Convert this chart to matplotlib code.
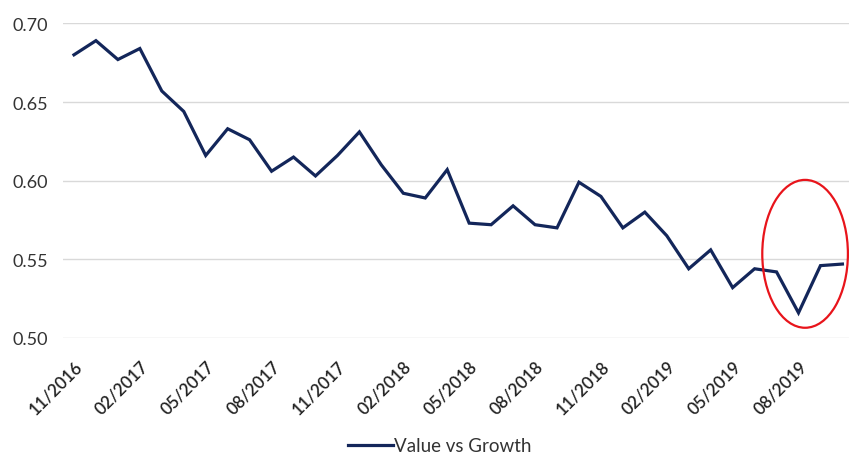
import matplotlib
matplotlib.use("Agg")
import matplotlib.pyplot as plt
import matplotlib.transforms as mtransforms
from matplotlib.patches import Ellipse

# monthly ratio, 11/2016 .. 10/2019
months = ["11/2016", "12/2016", "01/2017", "02/2017", "03/2017", "04/2017",
          "05/2017", "06/2017", "07/2017", "08/2017", "09/2017", "10/2017",
          "11/2017", "12/2017", "01/2018", "02/2018", "03/2018", "04/2018",
          "05/2018", "06/2018", "07/2018", "08/2018", "09/2018", "10/2018",
          "11/2018", "12/2018", "01/2019", "02/2019", "03/2019", "04/2019",
          "05/2019", "06/2019", "07/2019", "08/2019", "09/2019", "10/2019"]
value_vs_growth = [0.680, 0.689, 0.677, 0.684, 0.657, 0.644,
                   0.616, 0.633, 0.626, 0.606, 0.615, 0.603,
                   0.616, 0.631, 0.610, 0.592, 0.589, 0.607,
                   0.573, 0.572, 0.584, 0.572, 0.570, 0.599,
                   0.590, 0.570, 0.580, 0.565, 0.544, 0.556,
                   0.532, 0.544, 0.542, 0.516, 0.546, 0.547]
y_ticks = [0.50, 0.55, 0.60, 0.65, 0.70]

# highlight circle (month index, value)
circle_center = (33.3, 0.5535)
circle_size = (3.9, 0.094)

plt.rcParams['font.family'] = ['Lato', 'DejaVu Sans']

fig = plt.figure(figsize=(8.49, 4.56), dpi=100)
ax = fig.add_axes([0.0742, 0.2566, 0.9258, 0.690])

x = list(range(len(months)))
ax.plot(x, value_vs_growth, color="#13265a", linewidth=2.3,
        solid_joinstyle="miter", label="Value vs Growth", zorder=3)

ax.add_patch(Ellipse(circle_center, circle_size[0], circle_size[1],
                     fill=False, edgecolor="#e8141b", linewidth=1.6,
                     clip_on=False, zorder=4))

ax.set_xlim(-0.5, 35.3)
ax.set_ylim(0.50, 0.70)
ax.set_yticks(y_ticks)
ax.set_yticklabels(["%.2f" % v for v in y_ticks], fontsize=13, color="#333333")
ax.set_xticks(x[::3])
ax.set_xticklabels(months[::3], rotation=45, ha="right", va="top",
                   rotation_mode="anchor", fontsize=12.3, color="#222222",
                   fontweight="semibold")
shift = mtransforms.ScaledTranslation(6 / 100, 0, fig.dpi_scale_trans)
for lab in ax.get_xticklabels():
    lab.set_transform(lab.get_transform() + shift)
ax.tick_params(axis="y", length=0, pad=11)
ax.tick_params(axis="x", length=0, pad=14)
ax.grid(axis="y", color="#d9d9d9", linewidth=1)
ax.set_axisbelow(True)
for s in ax.spines.values():
    s.set_visible(False)

fig.legend(loc="center", bbox_to_anchor=(0.518, 0.02), frameon=False,
           fontsize=13.5, handlelength=2.4, handletextpad=0.05,
           labelcolor="#333333")

fig.savefig("out.png", dpi=100)
